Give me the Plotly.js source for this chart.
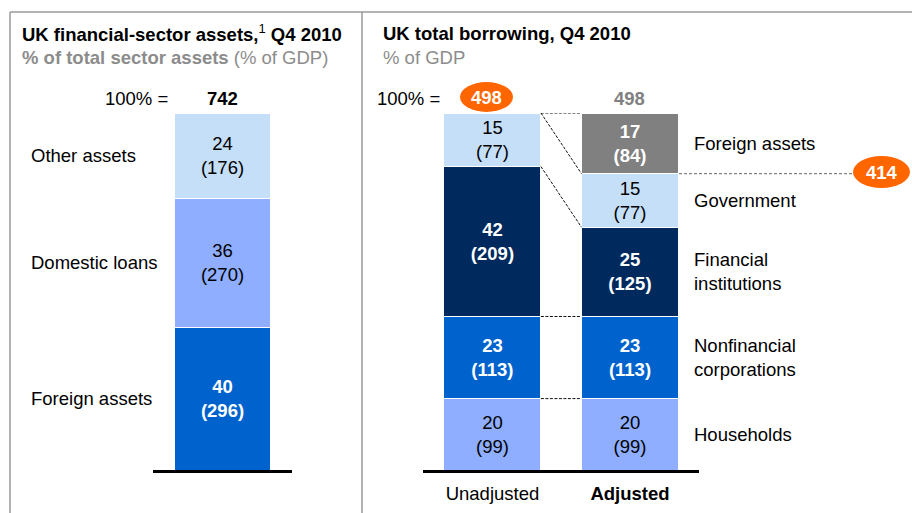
<!DOCTYPE html>
<html>
<head>
<meta charset="utf-8">
<script src="https://cdn.plot.ly/plotly-3.0.1.min.js"></script>
<style>html,body{margin:0;padding:0;background:#fff;}#chart{width:912px;height:513px;}</style>
</head>
<body>
<div id="chart"></div>
<script>
// ---- Data ----
const leftCategories = ['Foreign assets', 'Domestic loans', 'Other assets'];
const leftPct = [40, 36, 24];
const leftGdp = [296, 270, 176];
const leftTotal = 742;

const rightBars = ['Unadjusted', 'Adjusted'];
const rightSegments = ['Households', 'Nonfinancial<br>corporations', 'Financial<br>institutions', 'Government', 'Foreign assets'];
const unadjPct = [20, 23, 42, 15, null];
const unadjGdp = [99, 113, 209, 77, null];
const adjPct = [20, 23, 25, 15, 17];
const adjGdp = [99, 113, 125, 77, 84];
const rightTotal = 498;
const adjustedTotal = 414;

// ---- Styles ----
const W = 912, H = 513;
const px = x => x / W;
const py = y => 1 - y / H;
const FONT = 'Liberation Sans, Arial, sans-serif';
const FS = 18.5;
const LIGHT = '#C6DFF9', PERI = '#8FAEFF', BLUE = '#0062CC', NAVY = '#002A5E', GRAY = '#808080';
const leftColors = [BLUE, PERI, LIGHT];
const leftDark = [true, false, false];
const rightColors = [PERI, BLUE, NAVY, LIGHT, GRAY];
const rightDark = [false, true, true, false, true];
const leftW = 1.0, rightW = 0.705;

function lbl(p, g, dark) {
  const s = p + '<br>(' + g + ')';
  return dark ? '<b>' + s + '</b>' : s;
}

const traces = [];
leftCategories.forEach((c, i) => {
  traces.push({
    type: 'bar', x: ['Financial'], y: [leftPct[i]], xaxis: 'x', yaxis: 'y',
    width: leftW, name: c,
    marker: {color: leftColors[i], line: {color: '#ffffff', width: 1}},
    text: [lbl(leftPct[i], leftGdp[i], leftDark[i])], texttemplate: '%{text}',
    textposition: 'inside', insidetextanchor: 'middle', textangle: 0, constraintext: 'none',
    textfont: {family: FONT, size: FS, color: leftDark[i] ? '#ffffff' : '#000000'},
    hoverinfo: 'skip'
  });
});
rightSegments.forEach((s, i) => {
  const xs = [], ys = [], ts = [];
  [[unadjPct, unadjGdp], [adjPct, adjGdp]].forEach((pair, j) => {
    if (pair[0][i] !== null) {
      xs.push(rightBars[j]); ys.push(pair[0][i]); ts.push(lbl(pair[0][i], pair[1][i], rightDark[i]));
    }
  });
  traces.push({
    type: 'bar', x: xs, y: ys, xaxis: 'x2', yaxis: 'y',
    width: rightW, name: s,
    marker: {color: rightColors[i], line: {color: '#ffffff', width: 1}},
    text: ts, texttemplate: '%{text}',
    textposition: 'inside', insidetextanchor: 'middle', textangle: 0, constraintext: 'none',
    textfont: {family: FONT, size: FS, color: rightDark[i] ? '#ffffff' : '#000000'},
    hoverinfo: 'skip'
  });
});

// cumulative sums
function cum(arr) { let s = 0; return arr.map(v => (s += (v || 0))); }
const unadjCum = cum(unadjPct);
const adjCum = cum(adjPct);
const leftCum = cum(leftPct);

const annotations = [];
const shapes = [];

// Frame lines
const frameColor = '#9A9A9A';
shapes.push({type: 'line', xref: 'paper', yref: 'paper', x0: px(10), x1: 1, y0: py(12), y1: py(12), line: {color: frameColor, width: 1.5}});
shapes.push({type: 'line', xref: 'paper', yref: 'paper', x0: px(10), x1: px(10), y0: py(12), y1: 0, line: {color: frameColor, width: 1.5}});
shapes.push({type: 'line', xref: 'paper', yref: 'paper', x0: px(362), x1: px(362), y0: py(12), y1: 0, line: {color: frameColor, width: 1.5}});

// Titles
const tf = {family: FONT, size: FS, color: '#000000'};
const sf = {family: FONT, size: FS, color: '#8C8C8C'};
annotations.push({xref: 'paper', yref: 'paper', x: px(20), y: py(33), xanchor: 'left', yanchor: 'middle', showarrow: false,
  text: '<b>UK financial-sector assets,</b><sup>1</sup><b> Q4 2010</b>', font: tf});
annotations.push({xref: 'paper', yref: 'paper', x: px(20), y: py(57), xanchor: 'left', yanchor: 'middle', showarrow: false,
  text: '<b>% of total sector assets</b> (% of GDP)', font: sf});
annotations.push({xref: 'paper', yref: 'paper', x: px(381), y: py(33), xanchor: 'left', yanchor: 'middle', showarrow: false,
  text: '<b>UK total borrowing, Q4 2010</b>', font: tf});
annotations.push({xref: 'paper', yref: 'paper', x: px(381), y: py(57), xanchor: 'left', yanchor: 'middle', showarrow: false,
  text: '% of GDP', font: sf});

// 100% = labels
annotations.push({xref: 'paper', yref: 'paper', x: px(170), y: py(98), xanchor: 'right', yanchor: 'middle', showarrow: false,
  text: '100% =', font: tf});
annotations.push({xref: 'x', yref: 'paper', x: 'Financial', y: py(98), xanchor: 'center', yanchor: 'middle', showarrow: false,
  text: '<b>' + leftTotal + '</b>', font: tf});
annotations.push({xref: 'paper', yref: 'paper', x: px(442), y: py(98), xanchor: 'right', yanchor: 'middle', showarrow: false,
  text: '100% =', font: tf});

// orange ellipse 498
shapes.push({type: 'circle', xref: 'paper', yref: 'paper', x0: px(460), x1: px(513), y0: py(112), y1: py(82),
  fillcolor: '#FF6600', line: {width: 0}});
annotations.push({xref: 'paper', yref: 'paper', x: px(486.5), y: py(97), xanchor: 'center', yanchor: 'middle', showarrow: false,
  text: '<b>' + rightTotal + '</b>', font: {family: FONT, size: FS, color: '#ffffff'}});
annotations.push({xref: 'x2', yref: 'paper', x: 'Adjusted', y: py(98), xanchor: 'center', yanchor: 'middle', showarrow: false,
  text: '<b>' + rightTotal + '</b>', font: {family: FONT, size: FS, color: GRAY}});

// left labels
leftCategories.forEach((c, i) => {
  annotations.push({xref: 'paper', yref: 'y', x: px(29), y: leftCum[i] - leftPct[i] / 2, xanchor: 'left', yanchor: 'middle',
    showarrow: false, text: c, font: tf, align: 'left'});
});
// right labels
rightSegments.forEach((s, i) => {
  annotations.push({xref: 'paper', yref: 'y', x: px(692), y: adjCum[i] - adjPct[i] / 2, xanchor: 'left', yanchor: 'middle',
    showarrow: false, text: s, font: tf, align: 'left'});
});

// connectors
const xA = 0 + rightW / 2, xB = 1 - rightW / 2;
const dash = {color: '#111111', width: 1, dash: '3px,1.5px'};
function seg(x0, y0, x1, y1) { shapes.push({type: 'line', xref: 'x2', yref: 'y', x0, y0, x1, y1, line: dash}); }
seg(xA, unadjCum[3], xB, unadjCum[3]);
seg(xA, unadjCum[3], xB, adjCum[3]);
seg(xA, unadjCum[2], xB, adjCum[2]);
seg(xA, unadjCum[1], xB, adjCum[1]);
seg(xA, unadjCum[0], xB, adjCum[0]);
// line from adjusted bar (excluding foreign assets) to the 414 ellipse
shapes.push({type: 'line', xref: 'paper', yref: 'y', x0: px(679), x1: px(854), y0: adjCum[3], y1: adjCum[3],
  line: {color: '#666666', width: 1, dash: '3px,2px'}});
// ellipse 414
shapes.push({type: 'circle', xref: 'paper', yref: 'paper', x0: px(853), x1: px(910), y0: py(188), y1: py(156),
  fillcolor: '#FF6600', line: {width: 0}});
annotations.push({xref: 'paper', yref: 'paper', x: px(881.5), y: py(172), xanchor: 'center', yanchor: 'middle', showarrow: false,
  text: '<b>' + adjustedTotal + '</b>', font: {family: FONT, size: FS, color: '#ffffff'}});

const layout = {
  width: W, height: H,
  margin: {l: 0, r: 0, t: 0, b: 0},
  paper_bgcolor: '#ffffff', plot_bgcolor: 'rgba(0,0,0,0)',
  barmode: 'stack', showlegend: false, hovermode: false,
  font: {family: FONT, size: FS, color: '#000000'},
  xaxis: {domain: [px(153), px(292)], range: [-0.72, 0.72], anchor: 'y', type: 'category',
    showline: true, linecolor: '#000000', linewidth: 3, showticklabels: false, ticks: '', showgrid: false, zeroline: false, fixedrange: true},
  xaxis2: {domain: [px(423), px(699)], range: [-0.505, 1.502], anchor: 'y', type: 'category',
    showline: true, linecolor: '#000000', linewidth: 3, ticks: '', showgrid: false, zeroline: false, fixedrange: true,
    tickmode: 'array', tickvals: rightBars, ticktext: ['Unadjusted', '<b>Adjusted</b>'],
    tickfont: {family: FONT, size: FS, color: '#000000'}, ticklabelstandoff: 5},
  yaxis: {domain: [py(470), py(113)], range: [0, 100], visible: false, fixedrange: true},
  shapes: shapes,
  annotations: annotations
};

Plotly.newPlot('chart', traces, layout, {staticPlot: true, displayModeBar: false});
</script>
</body>
</html>
